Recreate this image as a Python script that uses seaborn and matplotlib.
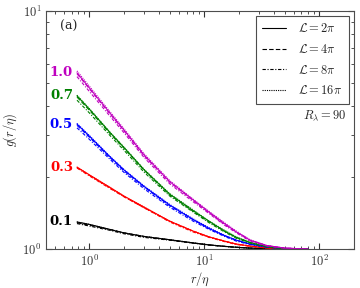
import numpy as np
import pandas as pd
import matplotlib
matplotlib.use("Agg")
import matplotlib.pyplot as plt
from matplotlib.lines import Line2D
from matplotlib.ticker import NullFormatter
import seaborn as sns

# r/eta sample points
r_eta = [0.78, 1.0, 1.5, 2.0, 3.0, 5.0, 8.0, 11.0, 15.0, 19.0, 25.0, 35.0, 50.0, 80.0]

# g(r/eta), one list per (label, box size)
g_10_2pi = [5.50, 4.75, 3.74, 3.16, 2.48, 1.92, 1.61, 1.43, 1.28, 1.18, 1.09, 1.035, 1.01, 1.0]
g_10_4pi = [5.45, 4.71, 3.71, 3.14, 2.46, 1.91, 1.60, 1.42, 1.27, 1.18, 1.09, 1.035, 1.01, 1.0]
g_10_8pi = [5.30, 4.59, 3.63, 3.08, 2.42, 1.88, 1.58, 1.41, 1.26, 1.17, 1.08, 1.03, 1.01, 1.0]
g_10_16pi = [5.60, 4.83, 3.79, 3.20, 2.51, 1.94, 1.62, 1.44, 1.29, 1.19, 1.095, 1.035, 1.01, 1.0]

g_07_2pi = [4.40, 3.87, 3.10, 2.67, 2.15, 1.70, 1.45, 1.31, 1.19, 1.12, 1.065, 1.025, 1.005, 1.0]
g_07_4pi = [4.35, 3.83, 3.07, 2.65, 2.14, 1.69, 1.44, 1.30, 1.19, 1.12, 1.065, 1.025, 1.005, 1.0]
g_07_8pi = [4.22, 3.73, 3.01, 2.60, 2.10, 1.67, 1.43, 1.29, 1.18, 1.11, 1.06, 1.02, 1.005, 1.0]
g_07_16pi = [4.43, 3.89, 3.11, 2.68, 2.16, 1.71, 1.46, 1.31, 1.20, 1.125, 1.07, 1.025, 1.005, 1.0]

g_05_2pi = [3.35, 2.98, 2.45, 2.15, 1.83, 1.53, 1.33, 1.22, 1.14, 1.09, 1.05, 1.02, 1.005, 1.0]
g_05_4pi = [3.31, 2.95, 2.43, 2.13, 1.82, 1.52, 1.33, 1.22, 1.14, 1.09, 1.05, 1.02, 1.005, 1.0]
g_05_8pi = [3.23, 2.89, 2.39, 2.10, 1.79, 1.50, 1.31, 1.21, 1.13, 1.08, 1.045, 1.02, 1.005, 1.0]
g_05_16pi = [3.37, 3.00, 2.46, 2.16, 1.84, 1.54, 1.34, 1.23, 1.14, 1.09, 1.05, 1.02, 1.005, 1.0]

g_03_2pi = [2.21, 2.05, 1.82, 1.67, 1.50, 1.31, 1.19, 1.125, 1.08, 1.05, 1.03, 1.012, 1.003, 1.0]
g_03_4pi = [2.20, 2.04, 1.81, 1.66, 1.49, 1.31, 1.19, 1.125, 1.08, 1.05, 1.03, 1.012, 1.003, 1.0]
g_03_8pi = [2.19, 2.03, 1.80, 1.66, 1.49, 1.30, 1.18, 1.12, 1.075, 1.045, 1.028, 1.01, 1.003, 1.0]
g_03_16pi = [2.21, 2.05, 1.82, 1.67, 1.50, 1.31, 1.19, 1.125, 1.08, 1.05, 1.03, 1.012, 1.003, 1.0]

g_01_2pi = [1.30, 1.27, 1.21, 1.17, 1.13, 1.095, 1.062, 1.042, 1.027, 1.018, 1.01, 1.004, 1.001, 1.0]
g_01_4pi = [1.29, 1.26, 1.21, 1.17, 1.13, 1.093, 1.061, 1.041, 1.027, 1.018, 1.01, 1.004, 1.001, 1.0]
g_01_8pi = [1.28, 1.25, 1.20, 1.16, 1.12, 1.09, 1.059, 1.04, 1.026, 1.017, 1.009, 1.004, 1.001, 1.0]
g_01_16pi = [1.30, 1.27, 1.21, 1.17, 1.13, 1.095, 1.062, 1.042, 1.027, 1.018, 1.01, 1.004, 1.001, 1.0]

labels = ["0.1", "0.3", "0.5", "0.7", "1.0"]
colors = ["black", "red", "blue", "green", "m"]
box_sizes = [r"$\mathcal{L}=2\pi$", r"$\mathcal{L}=4\pi$", r"$\mathcal{L}=8\pi$", r"$\mathcal{L}=16\pi$"]

curves = {
    "0.1": [g_01_2pi, g_01_4pi, g_01_8pi, g_01_16pi],
    "0.3": [g_03_2pi, g_03_4pi, g_03_8pi, g_03_16pi],
    "0.5": [g_05_2pi, g_05_4pi, g_05_8pi, g_05_16pi],
    "0.7": [g_07_2pi, g_07_4pi, g_07_8pi, g_07_16pi],
    "1.0": [g_10_2pi, g_10_4pi, g_10_8pi, g_10_16pi],
}

rows = []
for lab in labels:
    for L, g in zip(box_sizes, curves[lab]):
        for r, v in zip(r_eta, g):
            rows.append({"r": r, "g": v, "lab": lab, "L": L})
df = pd.DataFrame(rows)

sns.set_style("ticks")
plt.rcParams["font.family"] = ["DejaVu Serif"]
plt.rcParams["mathtext.fontset"] = "cm"
plt.rcParams["xtick.direction"] = "in"
plt.rcParams["ytick.direction"] = "in"

fig = plt.figure(figsize=(3.6, 2.88), dpi=100)
ax = fig.add_axes([0.128, 0.135, 0.855, 0.827])

dash_map = {box_sizes[0]: "", box_sizes[1]: (4, 2), box_sizes[2]: (3, 1.5, 1, 1.5), box_sizes[3]: (1, 1)}
sns.lineplot(data=df, x="r", y="g", hue="lab", style="L", palette=dict(zip(labels, colors)),
             dashes=dash_map, hue_order=labels, style_order=box_sizes,
             linewidth=0.8, legend=False, ax=ax, estimator=None, sort=False)

ax.set_xscale("log")
ax.set_yscale("log")
ax.set_xlim(0.42, 200)
ax.set_ylim(1, 10)
ax.tick_params(which="both", top=True, right=True, labelsize=9, colors="0.2")
ax.tick_params(which="major", length=4)
ax.tick_params(which="minor", length=2)
ax.set_yticks([1, 10])
ax.set_yticklabels([r"$10^{0}$", r"$10^{1}$"])
ax.set_xticks([1, 10, 100])
ax.set_xticklabels([r"$10^{0}$", r"$10^{1}$", r"$10^{2}$"])
ax.yaxis.set_minor_formatter(NullFormatter())
ax.xaxis.set_minor_formatter(NullFormatter())
ax.set_xlabel(r"$r/\eta$", fontsize=9, labelpad=1)
ax.set_ylabel(r"$g(r/\eta)$", fontsize=9, labelpad=2)

for lab, c in zip(labels, colors):
    ax.text(0.72, curves[lab][0][0], lab, color=c, fontsize=9.5, fontweight="bold",
            ha="right", va="center")

ax.text(0.045, 0.92, "(a)", transform=ax.transAxes, fontsize=9)
ax.text(0.975, 0.56, r"$R_\lambda=90$", transform=ax.transAxes, fontsize=9, ha="right", va="center")

handles = [Line2D([], [], color="black", lw=0.8, linestyle="-"),
           Line2D([], [], color="black", lw=0.8, dashes=(4, 2)),
           Line2D([], [], color="black", lw=0.8, dashes=(3, 1.5, 1, 1.5)),
           Line2D([], [], color="black", lw=0.8, dashes=(1, 1))]
leg = ax.legend(handles, box_sizes, loc="upper right", fontsize=9, fancybox=False,
                framealpha=1, edgecolor="0.3", handlelength=1.9, borderaxespad=0.4,
                labelspacing=0.62, handletextpad=1.0, borderpad=0.5)
leg.get_frame().set_linewidth(0.8)

for s in ax.spines.values():
    s.set_color("0.3")

fig.savefig("out.png", dpi=100)
